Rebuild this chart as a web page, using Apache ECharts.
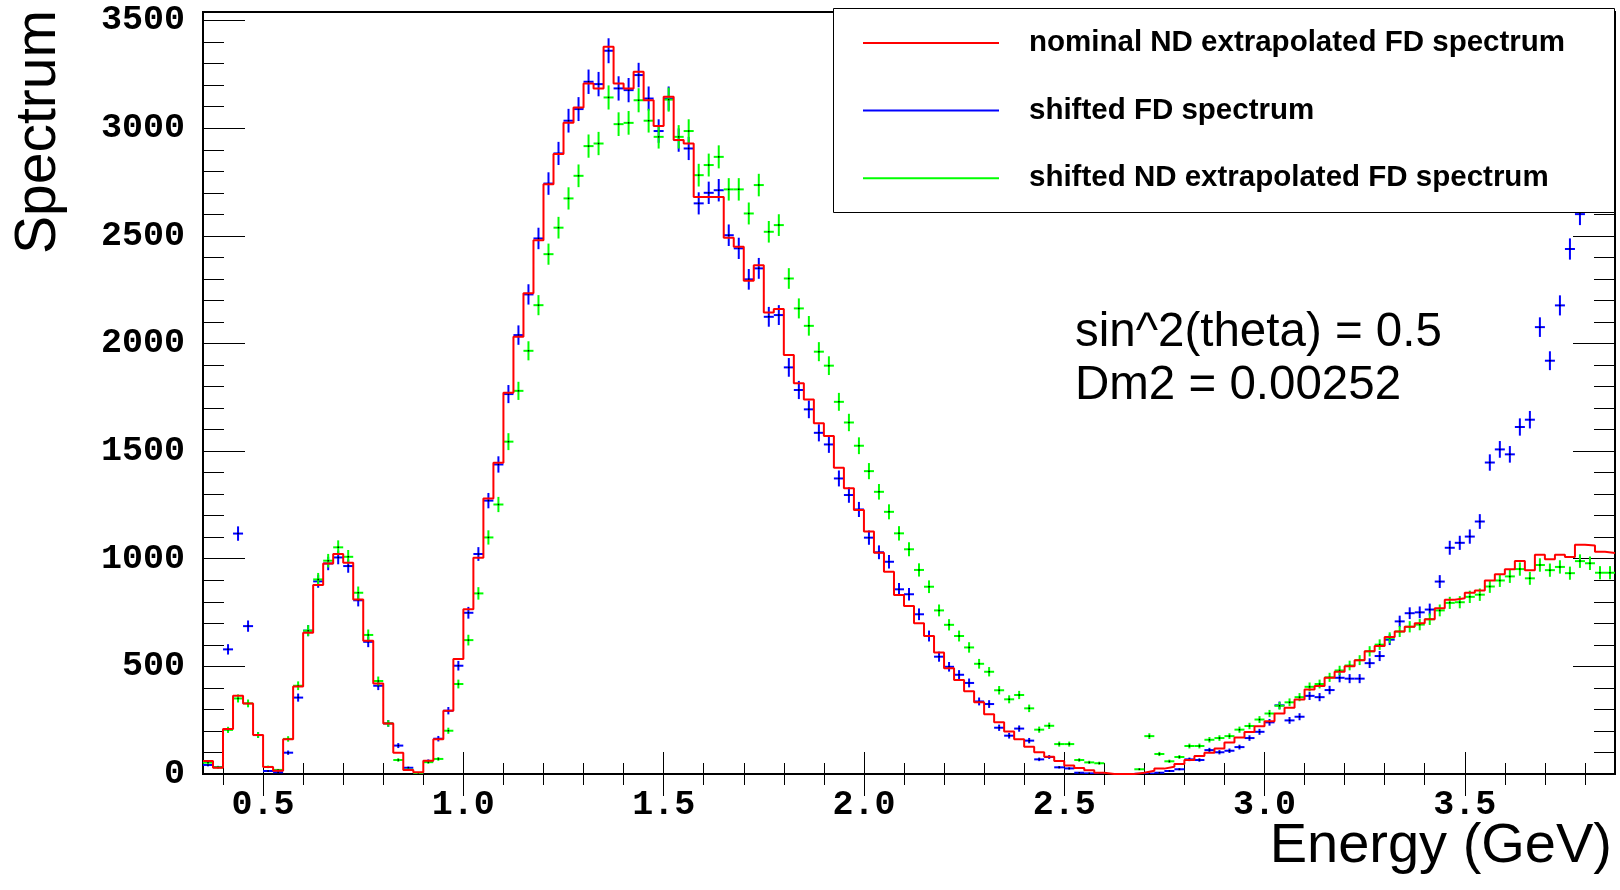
<!DOCTYPE html>
<html>
<head>
<meta charset="utf-8">
<script src="https://cdn.jsdelivr.net/npm/echarts@6/dist/echarts.min.js"></script>
<style>
html,body{margin:0;padding:0;background:#fff}
#chart{width:1620px;height:890px}
</style>
</head>
<body>
<div id="chart"></div>
<script>
// ---- binning (energy, GeV) ----
const E_MIN = 0.35;
const E_MAX = 3.875;
const BIN_W = 0.025;

// ---- series values (one per 0.025 GeV bin, starting at 0.35 GeV) ----
const nominalND = [
  60, 29, 209, 364, 328, 181, 33, 15, 161, 406,
  656, 878, 978, 1022, 981, 811, 619, 421, 235, 99,
  19, 8, 62, 161, 294, 534, 765, 1005, 1280, 1446,
  1771, 2031, 2233, 2480, 2740, 2880, 3025, 3096, 3208, 3185,
  3378, 3208, 3185, 3262, 3130, 3010, 3146, 2945, 2929, 2681,
  2681, 2681, 2491, 2449, 2291, 2364, 2144, 2160, 1946, 1815,
  1740, 1629, 1570, 1423, 1327, 1226, 1126, 1028, 940, 831,
  780, 700, 641, 565, 491, 437, 385, 333, 277, 240,
  198, 161, 127, 101, 80, 60, 40, 28, 17, 6,
  0, 0, 0, 6, 15, 25, 34, 46, 65, 84,
  99, 119, 146, 170, 195, 222, 245, 281, 308, 346,
  392, 409, 447, 475, 500, 529, 570, 595, 637, 662,
  684, 700, 719, 770, 810, 817, 842, 852, 899, 928,
  951, 989, 947, 1019, 998, 1019, 1008, 1065, 1061, 1032,
  1027
];
const shiftedFD = [
  42, 32, 579, 1117, 687, 181, 14, 8, 99, 355,
  666, 895, 978, 1006, 966, 807, 614, 410, 235, 132,
  29, 3, 60, 164, 294, 503, 749, 1022, 1270, 1438,
  1765, 2039, 2228, 2488, 2743, 2883, 3035, 3089, 3216, 3205,
  3360, 3185, 3177, 3247, 3138, 2987, 3138, 2945, 2906, 2651,
  2700, 2712, 2503, 2442, 2298, 2349, 2124, 2132, 1889, 1784,
  1694, 1585, 1531, 1373, 1296, 1229, 1098, 1030, 986, 858,
  835, 742, 641, 545, 498, 461, 423, 337, 325, 215,
  178, 211, 155, 68, 79, 31, 26, 6, 3, 1,
  0, 0, 0, 1, 2, 6, 14, 22, 68, 65,
  111, 101, 108, 125, 167, 196, 240, 319, 249, 266,
  363, 357, 390, 447, 443, 443, 515, 548, 624, 709,
  747, 751, 764, 894, 1051, 1074, 1103, 1173, 1447, 1508,
  1485, 1612, 1646, 2076, 1920, 2177, 2439, 2601, 2850, 3100,
  3350
];
const shiftedND = [
  53, 31, 205, 351, 328, 181, 33, 19, 163, 410,
  666, 904, 991, 1053, 1009, 842, 646, 432, 235, 65,
  20, 5, 55, 70, 201, 418, 622, 839, 1099, 1252,
  1544, 1780, 1966, 2178, 2415, 2538, 2674, 2779, 2917, 2929,
  3143, 3019, 3025, 3130, 3035, 2960, 3133, 2960, 2987, 2782,
  2829, 2867, 2716, 2716, 2604, 2736, 2519, 2550, 2302, 2163,
  2082, 1962, 1897, 1729, 1633, 1525, 1407, 1311, 1218, 1118,
  1044, 948, 870, 760, 693, 641, 588, 512, 475, 389,
  347, 367, 305, 206, 224, 139, 139, 65, 54, 50,
  0, 0, 0, 22, 176, 93, 59, 79, 130, 130,
  159, 167, 176, 206, 223, 253, 281, 317, 333, 357,
  405, 418, 449, 481, 504, 529, 570, 601, 633, 662,
  684, 694, 719, 760, 795, 798, 823, 833, 871, 899,
  918, 952, 909, 971, 947, 962, 933, 989, 979, 935,
  935
];

// ---- axes ----
const Y_MAX = 3540;
const xMajorTicks = [0.5, 1.0, 1.5, 2.0, 2.5, 3.0, 3.5];
const xMinorTicks = [0.4, 0.6, 0.7, 0.8, 0.9, 1.1, 1.2, 1.3, 1.4, 1.6, 1.7, 1.8, 1.9,
  2.1, 2.2, 2.3, 2.4, 2.6, 2.7, 2.8, 2.9, 3.1, 3.2, 3.3, 3.4, 3.6, 3.7, 3.8];
const yMajorTicks = [0, 500, 1000, 1500, 2000, 2500, 3000, 3500];
const yMinorTicks = [100, 200, 300, 400, 600, 700, 800, 900, 1100, 1200, 1300, 1400,
  1600, 1700, 1800, 1900, 2100, 2200, 2300, 2400, 2600, 2700, 2800, 2900,
  3100, 3200, 3300, 3400];

// ---- texts ----
const seriesNames = ['nominal ND extrapolated FD spectrum', 'shifted FD spectrum', 'shifted ND extrapolated FD spectrum'];
const xTitle = 'Energy (GeV)';
const yTitle = 'Spectrum';
const annotationLines = ['sin^2(theta) = 0.5', 'Dm2 = 0.00252'];

// ---- derived ----
const binCenters = nominalND.map((_, i) => +(E_MIN + BIN_W * (i + 0.5)).toFixed(4));
const binLowEdges = nominalND.map((_, i) => +(E_MIN + BIN_W * i).toFixed(4));
const histLine = nominalND.map((v, i) => [binLowEdges[i], v]);
histLine.push([E_MAX, nominalND[nominalND.length - 1]]);
const withErr = arr => arr.map((v, i) => [binCenters[i], v, Math.sqrt(v)]);

const COLORS = ['#ff0000', '#0000ff', '#00ff00'];

function errRenderer(color) {
  return function (params, api) {
    const x = api.value(0), y = api.value(1), e = api.value(2);
    const c = api.coord([x, y]);
    const l = api.coord([x - BIN_W / 2, y]);
    const r = api.coord([x + BIN_W / 2, y]);
    const t = api.coord([x, y + e]);
    const b = api.coord([x, y - e]);
    const st = { stroke: color, lineWidth: 2 };
    return {
      type: 'group',
      children: [
        { type: 'line', shape: { x1: l[0], y1: l[1], x2: r[0], y2: r[1] }, style: st },
        { type: 'line', shape: { x1: t[0], y1: t[1], x2: b[0], y2: b[1] }, style: st },
        { type: 'rect', shape: { x: c[0] - 0.75, y: c[1] - 0.75, width: 1.5, height: 1.5 }, style: { fill: '#000' } }
      ]
    };
  };
}

const tickFont = { fontFamily: 'Liberation Mono', fontWeight: 'bold', fontSize: 35, color: '#000' };
const hidden = { show: false };
function xAx(position, ticks, len, withLabels) {
  return {
    type: 'value', min: E_MIN, max: E_MAX, position: position,
    splitLine: hidden,
    axisLine: withLabels ? { show: true, onZero: false, lineStyle: { color: '#000', width: 2 } } : hidden,
    axisTick: { show: true, inside: true, length: len, customValues: ticks, lineStyle: { color: '#000', width: 1 } },
    axisLabel: withLabels ? Object.assign({ show: true, customValues: ticks, margin: 14, formatter: v => v.toFixed(1) }, tickFont) : hidden
  };
}
function yAx(position, ticks, len, withLabels) {
  return {
    type: 'value', min: 0, max: Y_MAX, position: position,
    splitLine: hidden,
    axisLine: withLabels ? { show: true, onZero: false, lineStyle: { color: '#000', width: 2 } } : hidden,
    axisTick: { show: true, inside: true, length: len, customValues: ticks, lineStyle: { color: '#000', width: 1 } },
    axisLabel: withLabels ? Object.assign({ show: true, customValues: ticks, margin: 18, formatter: v => String(v) }, tickFont) : hidden
  };
}

const chart = echarts.init(document.getElementById('chart'), null, { renderer: 'canvas' });
chart.setOption({
  animation: false,
  backgroundColor: '#fff',
  grid: { left: 203, top: 12, width: 1412, height: 762, show: true, borderColor: '#000', borderWidth: 2, backgroundColor: 'transparent' },
  xAxis: [
    xAx('bottom', xMajorTicks, 22, true),
    xAx('bottom', xMinorTicks, 11, false),
    xAx('top', xMajorTicks, 22, false),
    xAx('top', xMinorTicks, 11, false)
  ],
  yAxis: [
    yAx('left', yMajorTicks, 42, true),
    yAx('left', yMinorTicks, 21, false),
    yAx('right', yMajorTicks, 42, false),
    yAx('right', yMinorTicks, 21, false)
  ],
  legend: {
    orient: 'vertical', left: 863, top: 28, padding: 0,
    itemWidth: 136, itemHeight: 2, itemGap: 37.6, icon: 'rect', selectedMode: false,
    textStyle: { fontFamily: 'Liberation Sans', fontWeight: 'bold', fontSize: 29.5, color: '#000', lineHeight: 30, padding: [0, 0, 0, 25] },
    data: seriesNames.map((n, i) => ({ name: n, icon: 'rect', itemStyle: { color: COLORS[i] } }))
  },
  graphic: [
    { type: 'rect', z: 3, shape: { x: 833.5, y: 8.5, width: 781, height: 204 }, style: { fill: '#fff', stroke: '#000', lineWidth: 1 } },
    { type: 'text', z: 5, x: 39, y: 10, rotation: Math.PI / 2,
      style: { text: yTitle, fontFamily: 'Liberation Sans', fontSize: 57, fill: '#000', align: 'right', verticalAlign: 'middle' } },
    { type: 'text', z: 5, x: 1612, y: 847,
      style: { text: xTitle, fontFamily: 'Liberation Sans', fontSize: 56, fill: '#000', align: 'right', verticalAlign: 'middle' } },
    { type: 'text', z: 5, x: 1075, y: 333,
      style: { text: annotationLines[0], fontFamily: 'Liberation Sans', fontSize: 47.5, fill: '#000', align: 'left', verticalAlign: 'middle' } },
    { type: 'text', z: 5, x: 1075, y: 386,
      style: { text: annotationLines[1], fontFamily: 'Liberation Sans', fontSize: 47.5, fill: '#000', align: 'left', verticalAlign: 'middle' } }
  ],
  series: [
    {
      name: seriesNames[0], type: 'line', step: 'end', data: histLine,
      showSymbol: false, symbol: 'none', clip: true,
      itemStyle: { color: COLORS[0] },
      lineStyle: { color: COLORS[0], width: 2 }, z: 2
    },
    {
      name: seriesNames[1], type: 'custom', data: withErr(shiftedFD), clip: true,
      encode: { x: 0, y: 1 }, itemStyle: { color: COLORS[1] },
      renderItem: errRenderer(COLORS[1]), z: 2
    },
    {
      name: seriesNames[2], type: 'custom', data: withErr(shiftedND), clip: true,
      encode: { x: 0, y: 1 }, itemStyle: { color: COLORS[2] },
      renderItem: errRenderer(COLORS[2]), z: 2
    }
  ]
});
</script>
</body>
</html>
